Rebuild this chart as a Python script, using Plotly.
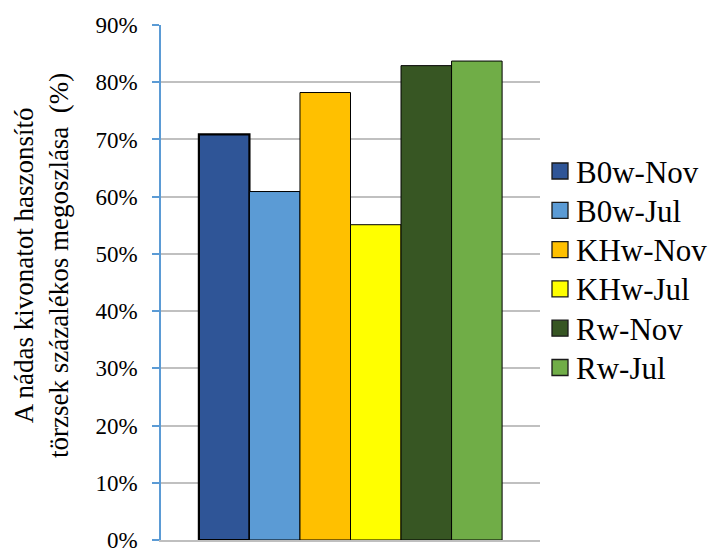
import plotly.graph_objects as go

# Share of strains (per site and season)
series_names = ["B0w-Nov", "B0w-Jul", "KHw-Nov", "KHw-Jul", "Rw-Nov", "Rw-Jul"]
series_values = [0.709, 0.609, 0.782, 0.551, 0.829, 0.837]
category = [""]
tick_values = [0, 0.1, 0.2, 0.3, 0.4, 0.5, 0.6, 0.7, 0.8, 0.9]
tick_labels = ["0%", "10%", "20%", "30%", "40%", "50%", "60%", "70%", "80%", "90%"]

colors = ["#2F5597", "#5B9BD5", "#FFC000", "#FFFF00", "#375623", "#70AD47"]
line_widths = [2.2, 1, 1, 1, 1, 1]

SERIF = "Liberation Serif"
W, H = 712, 548
M_L, M_R, M_T, M_B = 161, 172, 25, 8
PW, PH = W - M_L - M_R, H - M_T - M_B


def px_x(x):
    """Pixel x -> paper x."""
    return (x - M_L) / PW


def px_y(y):
    """Pixel y (from top) -> paper y."""
    return (H - M_B - y) / PH


fig = go.Figure()
for name, val, col, lw in zip(series_names, series_values, colors, line_widths):
    fig.add_trace(go.Bar(
        x=category, y=[val], name=name, showlegend=False,
        marker=dict(color=col, line=dict(color="#000000", width=lw)),
    ))

# Legend on the right: swatch + label per series
shapes = []
annotations = []
for i, (name, col) in enumerate(zip(series_names, colors)):
    cy = 171 + i * 39.3
    shapes.append(dict(
        type="rect", xref="paper", yref="paper",
        x0=px_x(552), x1=px_x(568), y0=px_y(cy + 8), y1=px_y(cy - 8),
        fillcolor=col, line=dict(color="#1a1a1a", width=1.3),
    ))
    annotations.append(dict(
        text=name, xref="paper", yref="paper",
        x=px_x(574), y=px_y(cy + 1), xanchor="left", yanchor="middle",
        showarrow=False, font=dict(family=SERIF, size=31, color="#000000"),
    ))

annotations.append(dict(
    text="A nádas kivonatot haszonsító<br>törzsek százalékos megoszlása\u00a0\u00a0(%)",
    xref="paper", yref="paper", x=px_x(41), y=px_y(266),
    xanchor="center", yanchor="middle", textangle=-90, showarrow=False,
    font=dict(family=SERIF, size=27, color="#000000"),
))

fig.update_layout(
    width=W, height=H,
    margin=dict(l=M_L, r=M_R, t=M_T, b=M_B, autoexpand=False),
    paper_bgcolor="white", plot_bgcolor="white",
    barmode="group", bargap=0.2, bargroupgap=0,
    font=dict(family=SERIF, color="#000000"),
    showlegend=False,
    xaxis=dict(
        showticklabels=False, showgrid=False, zeroline=False,
        showline=True, linecolor="#BFBFBF", linewidth=1.5,
    ),
    yaxis=dict(
        range=[0, 0.9], tickvals=tick_values, ticktext=tick_labels,
        tickfont=dict(family=SERIF, size=23, color="#000000"),
        showgrid=True, gridcolor="#C0C0C0", gridwidth=1.5,
        zeroline=False, automargin=False,
        showline=True, linecolor="#5B9BD5", linewidth=1.5,
        ticks="outside", ticklen=7, tickcolor="#5B9BD5", tickwidth=1.5,
        ticklabelstandoff=10, ticklabeloverflow="allow",
    ),
    shapes=shapes,
    annotations=annotations,
)

fig.write_html("out.html")
